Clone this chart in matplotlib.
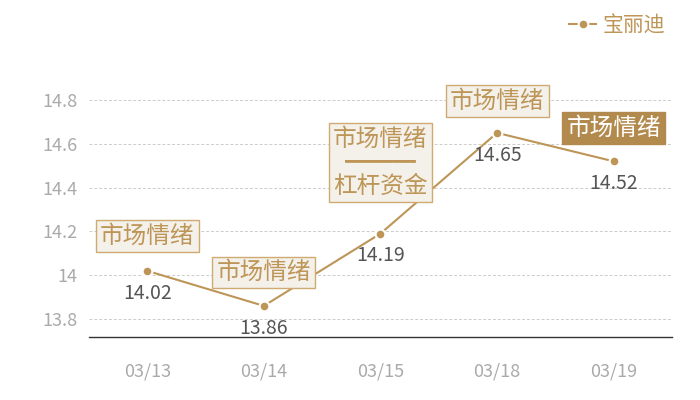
import matplotlib
matplotlib.use('Agg')
import matplotlib.pyplot as plt

plt.rcParams['font.family'] = ['Noto Sans CJK SC', 'DejaVu Sans']

fechas = ['03/13', '03/14', '03/15', '03/18', '03/19']
precios = [14.02, 13.86, 14.19, 14.65, 14.52]
etiquetas = ['市场情绪', '市场情绪', '市场情绪\n━━━\n杠杆资金', '市场情绪', '市场情绪']
resaltado = [False, False, False, False, True]
serie = '宝丽迪'
yticks = [13.8, 14, 14.2, 14.4, 14.6, 14.8]

oro = '#bd9556'
oro_osc = '#b38a4d'
gris = '#aaaaaa'

fig = plt.figure(figsize=(7, 4), dpi=100)
ax = fig.add_axes([0.127, 0.1575, 0.833, 0.5925])

x = list(range(len(fechas)))
ax.plot(x, precios, color=oro, lw=1.5, marker='o', ms=7,
        markerfacecolor=oro, markeredgecolor='white', markeredgewidth=1.5,
        label=serie, zorder=3)

ax.set_xlim(-0.5, len(fechas) - 0.5)
ax.set_ylim(13.718, 14.8)
ax.set_xticks(x)
ax.set_xticklabels(fechas)
ax.set_yticks(yticks)
ax.set_yticklabels(['13.8', '14', '14.2', '14.4', '14.6', '14.8'])
ax.tick_params(axis='both', length=0, labelsize=13, labelcolor=gris)
ax.tick_params(axis='x', pad=18)
ax.tick_params(axis='y', pad=8)
ax.grid(axis='y', color='#cccccc', ls=(0, (3, 2)), lw=0.7)
for s in ['top', 'right', 'left']:
    ax.spines[s].set_visible(False)
ax.spines['bottom'].set_color('#333333')
ax.spines['bottom'].set_linewidth(1)

# valores bajo cada punto
for xi, yi in zip(x, precios):
    ax.annotate('%.2f' % yi, (xi, yi), xytext=(0, -16), textcoords='offset points',
                ha='center', va='center', fontsize=14, color='#555555')

# cajas de etiqueta
offsets = [(0, 25), (0, 24), (0, 51), (0, 23), (0, 24)]
for xi, yi, txt, hl, off in zip(x, precios, etiquetas, resaltado, offsets):
    if hl:
        bbox = dict(boxstyle='square,pad=0.18', fc=oro_osc, ec=oro_osc)
        col = 'white'
    else:
        bbox = dict(boxstyle='square,pad=0.18', fc='#f4f0ea', ec='#cfaa72', lw=1)
        col = oro
    ax.annotate(txt, (xi, yi), xytext=off, textcoords='offset points',
                ha='center', va='center', fontsize=17, color=col, bbox=bbox,
                linespacing=1.05, annotation_clip=False, zorder=4)

leg = fig.legend(loc='upper right', bbox_to_anchor=(0.977, 1.01), frameon=False,
                 fontsize=15, handlelength=1.3, handletextpad=0.3)
for t in leg.get_texts():
    t.set_color(oro)

fig.savefig('out.png', dpi=100)
